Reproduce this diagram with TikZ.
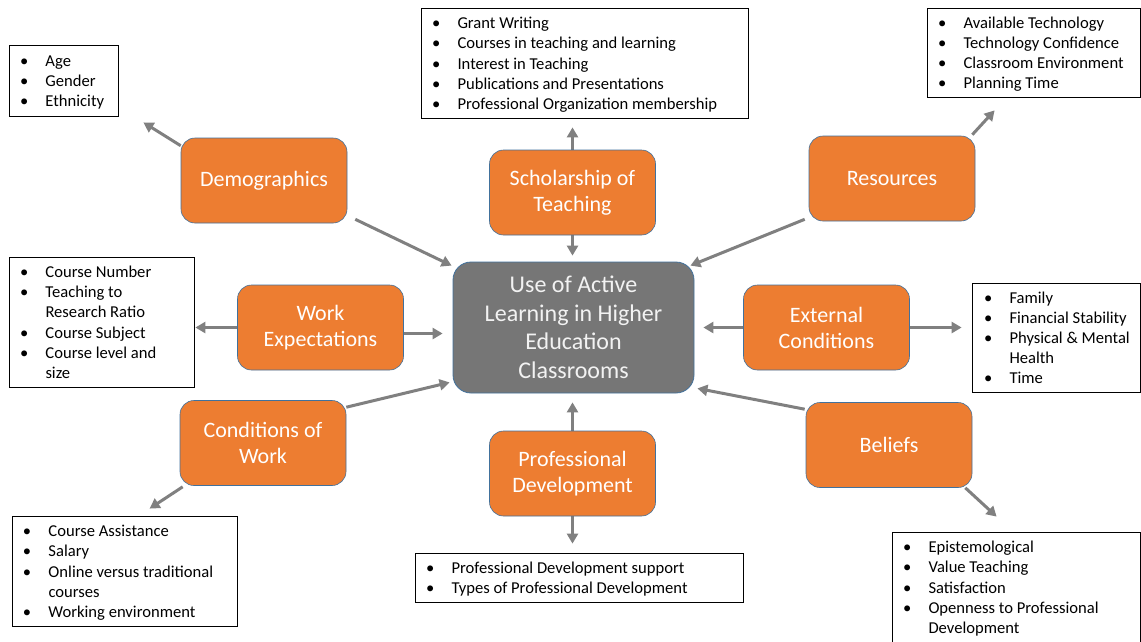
\documentclass[tikz,border=0pt]{standalone}
\usepackage{fontspec}
\setmainfont{Carlito}
\usetikzlibrary{arrows.meta,calc,backgrounds}

\definecolor{accent}{HTML}{ED7D31}
\definecolor{hubfill}{HTML}{767676}
\definecolor{linkgray}{HTML}{808080}
\definecolor{rim}{HTML}{41719C}

% bullet list, left-aligned in a fixed width, set slightly low in its box
\newcommand{\blist}[2]{\raisebox{-2pt}[\height][\depth]{\makebox[#1][l]{\begin{tabular}{@{}p{25.5pt}@{}l@{}}#2\end{tabular}}}}
\newcommand{\bu}{\textbullet}

\tikzset{
  cat/.style={rounded corners=14pt, fill=accent, draw=rim, line width=0.6pt,
    minimum width=166pt, minimum height=85pt, text=white, align=center,
    font=\fontsize{22}{26}\selectfont},
  hubbox/.style={rounded corners=18pt, fill=hubfill, draw=rim, line width=0.8pt,
    minimum width=241pt, minimum height=131pt, text=white!95!black, align=center,
    font=\fontsize{24}{28.5}\selectfont},
  lst/.style={draw=black, line width=0.8pt, fill=white, inner xsep=11pt, inner ysep=0pt,
    font=\fontsize{16.6}{20.2}\selectfont},
  conn/.style={draw=linkgray, line width=3pt, -{Triangle[length=10pt,width=11pt]}},
}

\begin{document}
\begin{tikzpicture}[x=1pt, y=-1pt]
\useasboundingbox (0,0) rectangle (1141,641);

% central outcome and its factors
\node[hubbox] (hub) at (573.5,327.5) {Use of Active\\Learning in Higher\\Education\\Classrooms};
\node[cat] (demo)  at (264,180.5)   {Demographics};
\node[cat] (schol) at (572.5,192.5) {Scholarship of\\Teaching};
\node[cat] (res)   at (892,178.5)   {Resources};
\node[cat] (work)  at (320.5,327.5) {Work\\Expectations};
\node[cat] (ext)   at (826.5,327.5) {External\\Conditions};
\node[cat] (cond)  at (263,443)     {Conditions of\\Work};
\node[cat] (prof)  at (572.5,473.5) {Professional\\Development};
\node[cat] (bel)   at (889,445)     {Beliefs};

% detail lists
\node[lst, minimum width=109pt, minimum height=71pt] (demoL) at (63.5,80.5)
  {\blist{87pt}{\bu & Age\\ \bu & Gender\\ \bu & Ethnicity}};
\node[lst, minimum width=327pt, minimum height=110pt] (scholL) at (584.5,63)
  {\blist{305pt}{\bu & Grant Writing\\ \bu & Courses in teaching and learning\\ \bu & Interest in Teaching\\ \bu & Publications and Presentations\\ \bu & Professional Organization membership}};
\node[lst, minimum width=213pt, minimum height=89pt] (resL) at (1033.5,52.5)
  {\blist{191pt}{\bu & Available Technology\\ \bu & Technology Confidence\\ \bu & Classroom Environment\\ \bu & Planning Time}};
\node[lst, minimum width=185pt, minimum height=130pt] (workL) at (101.5,322)
  {\blist{163pt}{\bu & Course Number\\ \bu & Teaching to\\ & Research Ratio\\ \bu & Course Subject\\ \bu & Course level and\\ & size}};
\node[lst, minimum width=168pt, minimum height=109pt, inner xsep=12pt] (extL) at (1056,337.5)
  {\blist{144pt}{\bu & Family\\ \bu & Financial Stability\\ \bu & Physical \& Mental\\ & Health\\ \bu & Time}};
\node[lst, minimum width=225pt, minimum height=110pt] (condL) at (124.5,571)
  {\blist{203pt}{\bu & Course Assistance\\ \bu & Salary\\ \bu & Online versus traditional\\ & courses\\ \bu & Working environment}};
\node[lst, minimum width=328pt, minimum height=49pt] (profL) at (579,577.5)
  {\blist{306pt}{\bu & Professional Development support\\ \bu & Types of Professional Development}};
\node[lst, minimum width=248pt, minimum height=110pt] (belL) at (1016,587)
  {\blist{226pt}{\bu & Epistemological\\ \bu & Value Teaching\\ \bu & Satisfaction\\ \bu & Openness to Professional\\ & Development}};

% connectors, kept beneath the boxes
\begin{pgfonlayer}{background}
\fill[white] (0,0) rectangle (1141,641);
\draw[conn] ($(demo.north west)+(0,8)$) -- ($(demoL.south east)+(25,6)$);
\draw[conn] ($(demo.south east)+(8,-4)$) -- ($(hub.north west)+(-1,4)$);
\draw[conn] (schol.north) -- ($(schol.north |- scholL.south)+(0,9)$);
\draw[conn] (schol.south) -- ($(schol.south |- hub.north)+(0,-6)$);
\draw[conn] ($(res.north east)+(-3,-1)$) -- ($(resL.south west)+(68,13)$);
\draw[conn] ($(res.south west)+(-4,-2)$) -- ($(hub.north east)+(-4,4)$);
\draw[conn] (work.west) -- ($(work.west -| workL.east)+(1,0)$);
\draw[conn] ($(work.east)+(0,6)$) -- ($(hub.west)+(-10,6)$);
\draw[conn] (ext.west) -- ($(hub.east)+(9,0)$);
\draw[conn] (ext.east) -- ($(ext.east -| extL.west)+(-10,0)$);
\draw[conn] ($(cond.north east)+(0,7)$) -- ($(hub.south west)+(-3,-11)$);
\draw[conn] ($(cond.south west)+(3,1)$) -- ($(condL.north west)+(138,-7)$);
\draw[conn] (prof.north) -- ($(prof.north |- hub.south)+(0,9)$);
\draw[conn] (prof.south) -- ($(prof.south |- profL.north)+(0,-9)$);
\draw[conn] ($(bel.north west)+(-1,7)$) -- ($(hub.south east)+(3,-5)$);
\draw[conn] ($(bel.south east)+(-7,0)$) -- ($(belL.north west)+(105,-15)$);
\end{pgfonlayer}
\end{tikzpicture}
\end{document}
